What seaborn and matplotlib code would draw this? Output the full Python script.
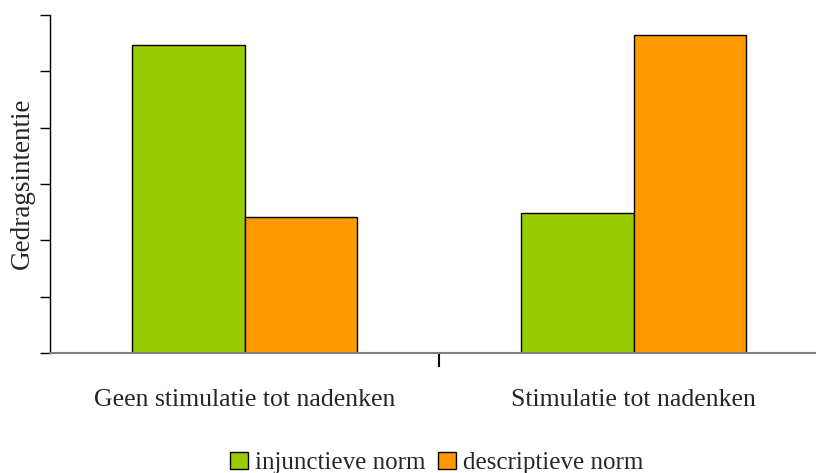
import matplotlib
matplotlib.use("Agg")
import matplotlib.pyplot as plt
import seaborn as sns
import pandas as pd
from matplotlib.patches import Patch

categories = ["Geen stimulatie tot nadenken", "Stimulatie tot nadenken"]
series = ["injunctieve norm", "descriptieve norm"]
injunctief = [5.47, 2.49]
descriptief = [2.41, 5.65]
colors = ["#99CC00", "#FF9900"]

df = pd.DataFrame({
    "cat": categories * 2,
    "norm": [series[0]] * 2 + [series[1]] * 2,
    "val": injunctief + descriptief,
})

sns.set_style("white")
plt.rcParams["font.family"] = ["Liberation Serif", "DejaVu Serif"]

fig = plt.figure(figsize=(8.16, 4.73), dpi=100)
ax = fig.add_axes([50 / 816, 1 - 353 / 473, (828 - 50) / 816, (353 - 15) / 473])

sns.barplot(data=df, x="cat", y="val", hue="norm", palette=colors, width=0.576,
            edgecolor="black", linewidth=1, ax=ax, legend=False, saturation=1)

ax.set_xlim(-0.5, 1.5)
ax.set_ylim(0, 6)
ax.set_yticks(range(0, 7))
ax.set_yticklabels([])
ax.tick_params(axis="y", direction="out", length=7, width=1, color="black", left=True)
ax.set_xticks([0.5], minor=False)
ax.set_xticklabels([])
ax.tick_params(axis="x", direction="out", length=10, width=1.5, color="black", bottom=True)
for i, c in enumerate(categories):
    ax.text(i, -0.83, c, ha="center", va="center", fontsize=18.5)
ax.set_xlabel("")
ax.set_ylabel("")
fig.text(22 / 816, 1 - 183 / 473, "Gedragsintentie", rotation=90, ha="center", va="center",
         fontsize=19.5)
for s in ["top", "right"]:
    ax.spines[s].set_visible(False)
ax.spines["left"].set_color("black")
ax.spines["left"].set_linewidth(1)
ax.spines["bottom"].set_color("#808080")
ax.spines["bottom"].set_linewidth(1.5)

handles = [Patch(facecolor=colors[i], edgecolor="black", label=series[i]) for i in range(2)]
fig.legend(handles=handles, loc="center", bbox_to_anchor=(437 / 816, 1 - 463 / 473), ncol=2,
           frameon=False, fontsize=18, handlelength=0.7, handleheight=0.7,
           handletextpad=0.3, columnspacing=0.5, borderpad=0)

fig.savefig("out.png", dpi=100)
